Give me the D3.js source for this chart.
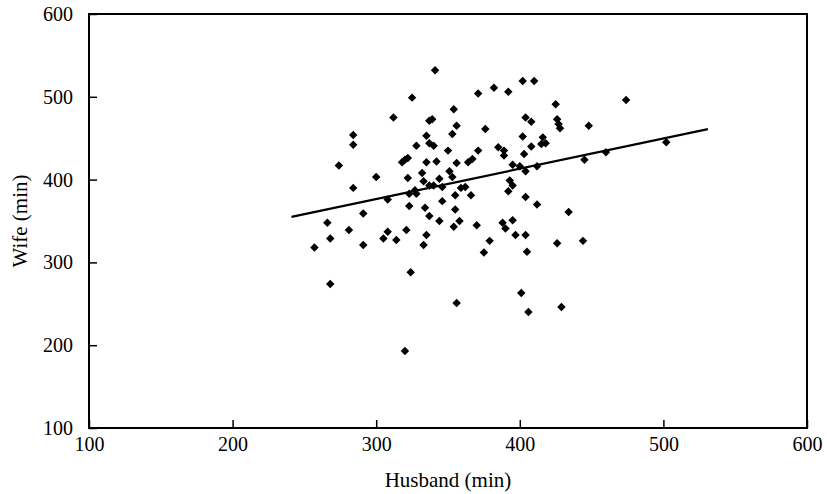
<!DOCTYPE html>
<html>
<head>
<meta charset="utf-8">
<script src="https://cdn.jsdelivr.net/npm/d3@7"></script>
<style>
  html, body { margin: 0; padding: 0; background: #fff; }
  svg { display: block; }
  text { font-family: "Liberation Serif", "Times New Roman", serif; fill: #000; }
</style>
</head>
<body>
<svg id="chart" width="827" height="494"></svg>
<script>
// Husband minutes (x) and wife minutes (y)
const husband = [325,371,382,392,402,410,341,354,312,337,339,404,408,356,376,284,335,353,402,416,
  284,328,337,340,350,371,385,389,408,415,418,403,389,274,318,320,322,335,342,356,
  364,367,395,400,412,404,300,322,332,351,353,333,337,340,344,346,359,362,284,323,
  328,327,308,355,366,393,395,392,404,412,323,334,346,355,291,337,344,354,358,370,
  266,268,281,308,305,314,321,335,333,257,291,379,375,388,390,395,397,404,405,324,
  268,356,401,406,320,425,426,427,428,448,474,502,460,445,434,444,426,429];
const wife = [499,504,511,506,519,519,532,485,475,471,473,475,470,465,461,454,453,455,452,451,
  442,441,444,441,435,435,439,435,440,443,444,431,429,417,421,424,426,421,422,420,
  421,425,418,416,416,410,403,402,408,410,403,398,393,393,401,391,390,391,390,383,
  383,387,376,381,381,399,393,386,379,370,368,366,374,364,359,356,350,343,350,345,
  348,329,339,337,329,327,339,333,321,318,321,326,312,348,341,351,333,333,313,288,
  274,251,263,240,193,491,473,467,462,465,496,445,433,424,361,326,323,246];
// Fitted line end points
const fitX = [241, 531];
const fitY = [355, 461];
const xTicks = [100, 200, 300, 400, 500, 600];
const yTicks = [100, 200, 300, 400, 500, 600];
const xTitle = "Husband (min)";
const yTitle = "Wife (min)";

const margin = { left: 89, right: 20, top: 14, bottom: 66 };
const W = 827, H = 494;
const iw = W - margin.left - margin.right;
const ih = H - margin.top - margin.bottom;

const svg = d3.select("#chart");
const g = svg.append("g").attr("transform", `translate(${margin.left},${margin.top})`);

const x = d3.scaleLinear().domain([100, 600]).range([0, iw]);
const y = d3.scaleLinear().domain([100, 600]).range([ih, 0]);

// axes
const xAxis = g.append("g").attr("transform", `translate(0,${ih})`)
  .call(d3.axisBottom(x).tickValues(xTicks).tickSizeInner(-8).tickSizeOuter(0).tickPadding(9).tickFormat(d3.format("d")));
const yAxis = g.append("g")
  .call(d3.axisLeft(y).tickValues(yTicks).tickSizeInner(-8).tickSizeOuter(0).tickPadding(16).tickFormat(d3.format("d")));
[xAxis, yAxis].forEach(a => {
  a.select(".domain").remove();
  a.selectAll(".tick line").attr("stroke", "#000").attr("stroke-width", 1.5);
  a.selectAll(".tick text").style("font-size", "20px").style("font-family", '"Liberation Serif", serif').attr("fill", "#000");
});

// frame
g.append("rect").attr("x", 0).attr("y", 0).attr("width", iw).attr("height", ih)
  .attr("fill", "none").attr("stroke", "#000").attr("stroke-width", 2);

// fitted line
const pts = fitX.map((d, i) => [d, fitY[i]]);
g.append("path")
  .attr("d", d3.line().x(d => x(d[0])).y(d => y(d[1]))(pts))
  .attr("stroke", "#000").attr("stroke-width", 2.2).attr("fill", "none");

// points
const sym = d3.symbol().type(d3.symbolSquare).size(36);
g.append("g").selectAll("path").data(husband.map((d, i) => [d, wife[i]]))
  .join("path")
  .attr("d", sym)
  .attr("transform", d => `translate(${x(d[0])},${y(d[1])}) rotate(45)`)
  .attr("fill", "#000");

// titles
svg.append("text").attr("x", margin.left + iw / 2).attr("y", 487)
  .attr("text-anchor", "middle").style("font-size", "21px").text(xTitle);
svg.append("text").attr("transform", `translate(27,${margin.top + ih / 2}) rotate(-90)`)
  .attr("text-anchor", "middle").style("font-size", "21px").text(yTitle);
</script>
</body>
</html>
